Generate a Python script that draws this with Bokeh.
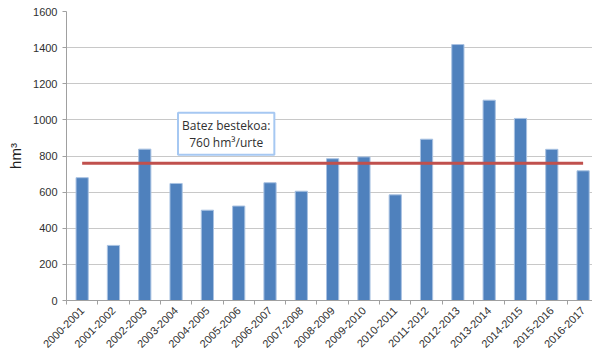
import math
from bokeh.plotting import figure
from bokeh.models import FixedTicker, Range1d, Label
from bokeh.embed import file_html
from bokeh.resources import INLINE

seasons = ["2000-2001", "2001-2002", "2002-2003", "2003-2004", "2004-2005",
           "2005-2006", "2006-2007", "2007-2008", "2008-2009", "2009-2010",
           "2010-2011", "2011-2012", "2012-2013", "2013-2014", "2014-2015",
           "2015-2016", "2016-2017"]
volumes = [680, 305, 838, 648, 500, 523, 652, 605, 785, 795, 585, 893,
           1417, 1109, 1008, 837, 718]
mean_value = 760
y_ticks = [0, 200, 400, 600, 800, 1000, 1200, 1400, 1600]

n = len(seasons)
centers = [i + 0.5 for i in range(n)]
bounds = [float(i) for i in range(n + 1)]

p = figure(width=592, height=354, output_backend="svg", toolbar_location=None,
           x_range=Range1d(0, 16.8), y_range=Range1d(0, 1600),
           min_border_left=66, min_border_right=0, min_border_top=11,
           min_border_bottom=53)
p.outline_line_color = None
p.background_fill_color = "white"

p.vbar(x=centers, top=volumes, width=0.39, fill_color="#4f81bd",
       line_color="#a9c2e2", line_width=1)
p.line(x=[centers[0], centers[-1]], y=[mean_value, mean_value],
       line_color="#c0504d", line_width=3)

font = "Liberation Sans"
p.xaxis.ticker = FixedTicker(ticks=centers, minor_ticks=bounds)
p.xaxis.major_label_overrides = {c: s for c, s in zip(centers, seasons)}
p.xaxis.major_label_orientation = math.pi / 4
p.xaxis.major_tick_line_color = None
p.xaxis.minor_tick_line_color = "#a0a0a0"
p.xaxis.minor_tick_in = 0
p.xaxis.minor_tick_out = 4
p.xaxis.axis_line_color = "#a0a0a0"
p.xaxis.major_label_text_font = font
p.xaxis.major_label_text_font_size = "11px"
p.xaxis.major_label_text_color = "#303030"
p.xaxis.major_label_standoff = 2

p.yaxis.ticker = FixedTicker(ticks=y_ticks)
p.yaxis.minor_tick_line_color = None
p.yaxis.major_tick_line_color = "#a0a0a0"
p.yaxis.major_tick_in = 0
p.yaxis.major_tick_out = 4
p.yaxis.axis_line_color = "#a0a0a0"
p.yaxis.major_label_text_font = font
p.yaxis.major_label_text_font_size = "11px"
p.yaxis.major_label_text_color = "#303030"
p.yaxis.major_label_standoff = 5
p.yaxis.axis_label = "hm³"
p.yaxis.axis_label_text_font = font
p.yaxis.axis_label_text_font_style = "normal"
p.yaxis.axis_label_text_font_size = "15px"
p.yaxis.axis_label_text_color = "#202020"
p.yaxis.axis_label_standoff = 6

p.xgrid.grid_line_color = None
p.ygrid.grid_line_color = "#c8c8c8"
p.ygrid.grid_line_width = 1

lbl = Label(x=5.1, y=923, text="Batez bestekoa:\n760 hm³/urte",
            text_align="center", text_baseline="middle", text_font="Open Sans",
            text_font_size="12px", text_color="#303030",
            border_line_color="#a6c8f2", border_line_width=2,
            background_fill_color="white", padding=4, text_line_height=1.0)
p.add_layout(lbl)

open("out.html", "w").write(file_html(p, INLINE))
